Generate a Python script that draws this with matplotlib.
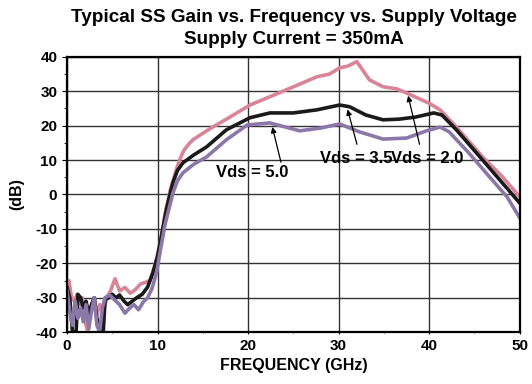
import numpy as np
import matplotlib
matplotlib.use('Agg')
import matplotlib.pyplot as plt

plt.rcParams['font.family'] = ['Liberation Sans', 'DejaVu Sans']
plt.rcParams['font.weight'] = 'bold'
plt.rcParams['axes.unicode_minus'] = False

# Vds = 2.0 (pink)
f_20 = [0, 0.2, 0.5, 0.8, 1.1, 1.4, 1.7, 2.0, 2.3, 2.6, 3.0, 3.3, 3.6, 4.0, 4.4, 4.8,
        5.3, 5.8, 6.4, 7.0, 7.6, 8.1, 8.7, 9.2, 9.7, 10.3, 10.8, 11.4, 12.1, 12.5, 12.9,
        13.4, 13.9, 15.0, 16.1, 18.0, 20.2, 22.4, 25.0, 27.6, 29.0, 30.1, 31.0, 32.0, 33.4,
        34.9, 36.4, 37.5, 40.0, 41.2, 43.0, 45.9, 48.1, 50.0]
g_20 = [-26, -25, -30, -31, -29, -32, -30, -37, -40, -33, -30, -35, -32, -34, -30, -28,
        -24.5, -28, -27, -28.7, -27.5, -26, -25.5, -24.9, -20.5, -14, -6, 1.3, 7.5, 10.5, 12.8,
        14.5, 15.9, 17.8, 19.6, 22.5, 26, 28.4, 31.3, 34.2, 35, 36.8, 37.3, 38.6, 33.3,
        31.3, 30.7, 29.5, 26.5, 24.6, 19.6, 10.9, 5.1, -0.7]

# Vds = 3.5 (black)
f_35 = [0, 0.3, 0.6, 0.8, 1.0, 1.2, 1.5, 1.8, 2.1, 2.4, 2.7, 3.0, 3.3, 3.7, 4.0, 4.2,
        4.6, 5.0, 5.4, 5.8, 6.3, 6.7, 7.2, 7.7, 8.3, 8.9, 9.5, 10.0, 10.5, 11.0, 11.7,
        12.2, 12.8, 14.0, 15.4, 17.6, 20.2, 22.4, 25.0, 27.6, 30.1, 31.2, 33.0, 34.9, 36.7,
        38.5, 40.5, 41.4, 43.0, 45.9, 48.1, 50.0]
g_35 = [-27, -30, -40, -40, -40, -29, -30, -33, -31, -35, -32, -30, -36, -40, -40, -30.5,
        -30, -29, -30, -29.2, -31, -32, -31, -30, -29, -26.9, -22.6, -18, -11, -4, 3.5,
        7.0, 9.2, 11.5, 13.8, 18.8, 22.3, 23.7, 23.7, 24.6, 26, 25.5, 23.1, 21.7, 21.9,
        22.5, 23.7, 23.1, 18.8, 10, 3.3, -2.5]

# Vds = 5.0 (purple)
f_50 = [0, 0.3, 0.6, 0.9, 1.2, 1.5, 1.8, 2.1, 2.4, 2.7, 3.0, 3.3, 3.6, 3.9, 4.2, 4.7,
        5.2, 5.8, 6.4, 6.9, 7.4, 7.9, 8.4, 8.9, 9.4, 9.9, 10.3, 10.8, 11.7, 12.2, 12.8, 14.0,
        15.4, 17.6, 19.9, 22.4, 25.7, 28.0, 30.1, 32.3, 34.9, 37.5, 39.7, 41.2, 42.2,
        44.4, 46.7, 48.6, 50.0]
g_50 = [-28, -34, -38, -31, -36, -33, -37, -32, -39, -34, -30, -38, -40, -33, -30, -29.2,
        -30.5, -32, -34.5, -33, -32, -33.5, -31.3, -30, -27.2, -22.5, -16.4, -9, 0.5, 4.0, 6.3, 8.8,
        10.9, 15.9, 20.2, 20.8, 18.5, 19.3, 20.5, 18.2, 16.1, 16.4, 18.5, 19.6, 18.2,
        12, 5, -0.7, -6.8]

fig = plt.figure(figsize=(5.32, 3.84), dpi=100)
ax = fig.add_axes([0.126, 0.135, 0.851, 0.717])

ax.plot(f_20, g_20, color='#d98497', lw=2.6)
ax.plot(f_35, g_35, color='#1a1a1a', lw=2.6)
ax.plot(f_50, g_50, color='#8b77a8', lw=2.6)

ax.set_xlim(0, 50)
ax.set_ylim(-40, 40)
ax.set_xticks(np.arange(0, 51, 10))
ax.set_yticks(np.arange(-40, 41, 10))
ax.set_xticks(np.arange(5, 50, 10), minor=True)
ax.set_yticks(np.arange(-35, 40, 10), minor=True)
ax.grid(True, which='major', color='#333333', lw=1)
ax.tick_params(axis='x', which='both', direction='inout', labelsize=11)
ax.tick_params(axis='y', which='both', direction='out', labelsize=11)
for s in ax.spines.values():
    s.set_linewidth(1.6)

arrow = dict(arrowstyle='-|>', color='black', lw=0.9, mutation_scale=8)
ax.annotate('', xy=(22.6, 20.4), xytext=(23.7, 8.6), arrowprops=arrow)
ax.annotate('', xy=(30.9, 25.5), xytext=(32.1, 13.8), arrowprops=arrow)
ax.annotate('', xy=(37.6, 29.5), xytext=(39.0, 13.8), arrowprops=arrow)
ax.text(20.5, 6.5, 'Vds = 5.0', fontsize=12, fontweight='bold', ha='center', va='center')
ax.text(31.9, 10.6, 'Vds = 3.5', fontsize=12, fontweight='bold', ha='center', va='center')
ax.text(39.8, 10.6, 'Vds = 2.0', fontsize=12, fontweight='bold', ha='center', va='center')

fig.text(0.552, 1 - 18 / 384, 'Typical SS Gain vs. Frequency vs. Supply Voltage',
         fontsize=13.6, fontweight='bold', ha='center', va='center')
fig.text(0.552, 1 - 40 / 384, 'Supply Current = 350mA',
         fontsize=13.6, fontweight='bold', ha='center', va='center')
ax.set_xlabel('FREQUENCY (GHz)', fontsize=11.5, fontweight='bold', labelpad=3)
ax.set_ylabel('(dB)', fontsize=11.5, fontweight='bold', labelpad=8)

fig.savefig('out.png', dpi=100)
